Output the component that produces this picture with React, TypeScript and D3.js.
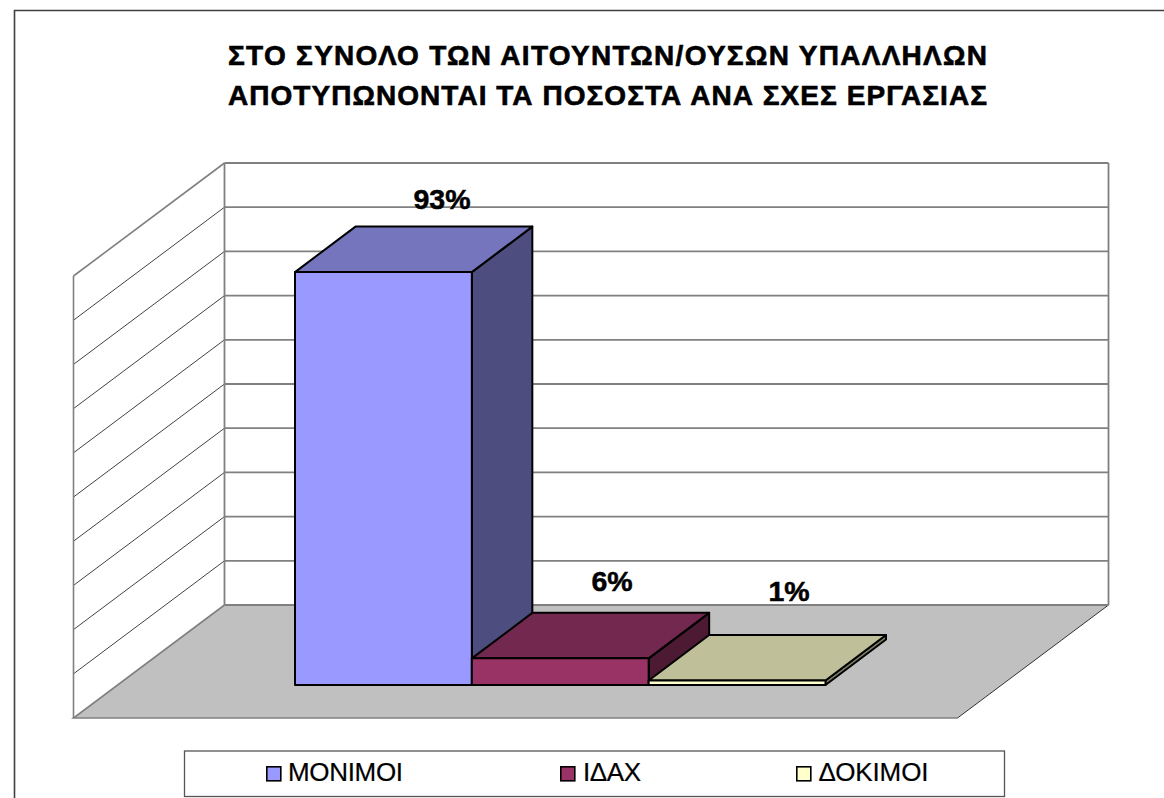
import React from "react";
import * as d3 from "d3";

const titleLines = ["ΣΤΟ ΣΥΝΟΛΟ ΤΩΝ ΑΙΤΟΥΝΤΩΝ/ΟΥΣΩΝ ΥΠΑΛΛΗΛΩΝ", "ΑΠΟΤΥΠΩΝΟΝΤΑΙ ΤΑ ΠΟΣΟΣΤΑ ΑΝΑ ΣΧΕΣ ΕΡΓΑΣΙΑΣ"];
const seriesNames = ["ΜΟΝΙΜΟΙ", "ΙΔΑΧ", "ΔΟΚΙΜΟΙ"];
const seriesValues = [93, 6, 1];
const valueLabels = ["93%", "6%", "1%"];
const frontColors = ["#9999FF", "#993366", "#FFFFCC"];
const topColors = ["#7575BD", "#72284F", "#BFBF99"];
const sideColors = ["#4D4D80", "#4D1A33", "#808066"];
const gridTicks = d3.range(0, 101, 10);

const FONT = "'Liberation Sans', Arial, sans-serif";
const GRID = "#808080";

const W = { l: 224.5, r: 1108.5, t: 163, b: 605 };
const DEPTH = { x: -151, y: 113 };
const y = d3.scaleLinear().domain([0, 100]).range([W.b, W.t]);
const x = d3.scaleBand<string>().domain(seriesNames).range([295, 825.5]).paddingInner(0).paddingOuter(0);
const barBase = 685;
const barDepth = { x: 60.5, y: -45.5 };
const h = d3.scaleLinear().domain([0, 100]).range([0, 444]);
const poly = (p: [number, number][]) => (d3.line()(p) as string) + "Z";

const legendSwatchX = [266.8, 560.8, 796.8];
const legendTextX = [288, 583, 818.5];
const legendTextW = [115, 58, 110];
const labelX = [442, 612, 789];
const labelY = [209, 591, 601];

export default function App() {
  return (
    <svg width={1164} height={798} style={{ position: "fixed", left: 0, top: 0, display: "block", background: "#fff" }} fontFamily={FONT}>
      <path d="M14.5 798V10.5H1164" fill="none" stroke="#404040" strokeWidth={1.6} />

      {titleLines.map((t, i) => (
        <text key={t} x={228} y={65 + i * 40} fontSize={28} fontWeight="bold" textLength={759} lengthAdjust="spacing" fill="#000" stroke="#000" strokeWidth={0.6}>{t}</text>
      ))}

      <path d={poly([[W.l, W.b], [W.r, W.b], [W.r + DEPTH.x, W.b + DEPTH.y], [W.l + DEPTH.x, W.b + DEPTH.y]])} fill="#C0C0C0" />
      <path d={`M${W.r} ${W.b}L${W.r + DEPTH.x} ${W.b + DEPTH.y}`} stroke="#333" strokeWidth={1} fill="none" />
      <path d={`M${W.r + DEPTH.x} ${W.b + DEPTH.y}H${W.l + DEPTH.x}L${W.l} ${W.b}`} stroke={GRID} strokeWidth={1.6} fill="none" />

      {gridTicks.map((t) => (
        <g key={t}>
          <line x1={W.l} x2={W.r} y1={y(t)} y2={y(t)} stroke={GRID} strokeWidth={1.8} />
          {t > 0 && t < 100 && (
            <line x1={W.l} x2={W.l + DEPTH.x} y1={y(t)} y2={y(t) + DEPTH.y} stroke="#111" strokeWidth={0.8} />
          )}
        </g>
      ))}
      <line x1={W.l} x2={W.l + DEPTH.x} y1={y(100)} y2={y(100) + DEPTH.y} stroke={GRID} strokeWidth={1.6} />
      <line x1={W.l} x2={W.l} y1={W.t} y2={W.b} stroke={GRID} strokeWidth={1.8} />
      <line x1={W.r} x2={W.r} y1={W.t} y2={W.b} stroke={GRID} strokeWidth={1.8} />
      <line x1={W.l + DEPTH.x} x2={W.l + DEPTH.x} y1={W.t + DEPTH.y} y2={W.b + DEPTH.y} stroke={GRID} strokeWidth={1.6} />

      {seriesNames.map((s, i) => {
        const x0 = x(s) as number;
        const x1 = x0 + x.bandwidth();
        const top = barBase - h(seriesValues[i]);
        const stroke = { stroke: "#000", strokeWidth: 2, strokeLinejoin: "round" as const };
        return (
          <g key={s}>
            <path d={poly([[x1, barBase], [x1 + barDepth.x, barBase + barDepth.y], [x1 + barDepth.x, top + barDepth.y], [x1, top]])} fill={sideColors[i]} {...stroke} />
            <path d={poly([[x0, top], [x0 + barDepth.x, top + barDepth.y], [x1 + barDepth.x, top + barDepth.y], [x1, top]])} fill={topColors[i]} {...stroke} />
            <path d={poly([[x0, top], [x1, top], [x1, barBase], [x0, barBase]])} fill={frontColors[i]} {...stroke} />
          </g>
        );
      })}

      {valueLabels.map((l, i) => (
        <text key={l} x={labelX[i]} y={labelY[i]} textAnchor="middle" fontSize={28.5} fontWeight="bold" fill="#000" stroke="#000" strokeWidth={0.5}>{l}</text>
      ))}

      <rect x={184.5} y={751} width={820} height={45.5} fill="#fff" stroke="#555" strokeWidth={1.3} />
      {seriesNames.map((s, i) => (
        <g key={s}>
          <rect x={legendSwatchX[i]} y={766.8} width={14} height={14} fill={frontColors[i]} stroke="#000" strokeWidth={1.6} />
          <text x={legendTextX[i]} y={780.7} fontSize={26} textLength={legendTextW[i]} lengthAdjust="spacing" fill="#000" stroke="#000" strokeWidth={0.2}>{s}</text>
        </g>
      ))}
    </svg>
  );
}
